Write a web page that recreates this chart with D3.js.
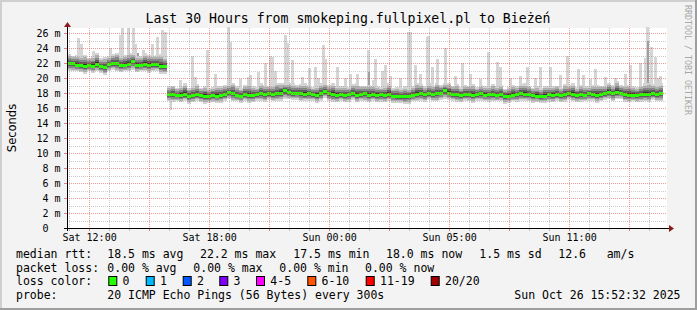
<!DOCTYPE html>
<html>
<head>
<meta charset="utf-8">
<script src="https://cdn.jsdelivr.net/npm/d3@7"></script>
<style>
html, body { margin: 0; padding: 0; background: #f3f3f3; }
svg { display: block; }
text { font-family: "DejaVu Sans Mono", monospace; fill: #000; white-space: pre; }
</style>
</head>
<body>
<svg width="697" height="310"></svg>
<script>
// ---- data ----
const title = "Last 30 Hours from smokeping.fullpixel.pl to Bieżeń";
const tickLabels = ["Sat 12:00", "Sat 18:00", "Sun 00:00", "Sun 05:00", "Sun 11:00"];
const tickHours = [1.08, 7.08, 13.08, 19.08, 25.08];   // hours since graph start
const yTicks = [0, 2, 4, 6, 8, 10, 12, 14, 16, 18, 20, 22, 24, 26];   // ms

const stepHours = 0.2;  // one value per 12 minutes
const median = [
  21.9, 21.9, 21.7, 21.7, 21.6, 21.7, 21.6, 21.8, 21.5, 21.4,
  21.8, 21.9, 21.9, 21.7, 21.7, 21.8, 22.2, 21.7, 21.7, 21.8,
  21.7, 21.8, 21.8, 21.6, 21.5, 17.8, 17.8, 17.7, 17.7, 17.8,
  17.6, 17.7, 17.8, 17.7, 17.6, 17.5, 17.7, 17.6, 17.7, 17.8,
  18.1, 17.9, 17.7, 17.6, 17.8, 17.7, 17.7, 17.8, 17.9, 17.8,
  17.9, 17.8, 17.9, 18.0, 18.3, 18.1, 17.9, 18.0, 17.9, 17.8,
  17.9, 17.8, 17.7, 17.9, 18.2, 17.9, 17.8, 17.7, 17.8, 17.7,
  17.8, 17.9, 17.7, 17.8, 17.9, 17.7, 17.8, 17.7, 17.8, 17.7,
  17.8, 17.6, 17.5, 17.5, 17.5, 17.6, 17.7, 17.8, 17.9, 17.8,
  17.9, 17.8, 17.9, 18.0, 18.3, 18.0, 17.8, 17.8, 17.7, 17.8,
  17.8, 17.7, 17.8, 17.9, 17.7, 17.8, 17.8, 17.7, 17.8, 17.6,
  17.6, 17.7, 17.8, 17.9, 17.8, 17.8, 17.7, 17.6, 17.5, 17.6,
  17.8, 17.7, 17.8, 17.7, 17.8, 17.9, 17.8, 17.7, 17.8, 17.7,
  17.9, 17.8, 17.7, 17.8, 17.9, 18.1, 17.9, 18.1, 18.0, 17.8,
  17.7, 17.7, 17.7, 17.8, 17.8, 17.8, 17.9, 17.8, 17.9
];
// how far the bulk of the pings reaches above / below the median (ms)
const spreadAbove = [
  1.3, 1.1, 1.4, 1.2, 1.5, 1.0, 1.3, 1.6, 1.2, 1.4,
  1.1, 1.3, 1.5, 1.2, 1.4, 1.6, 1.1, 1.3, 1.2, 1.5,
  1.4, 1.2, 1.3, 1.6, 1.4, 1.1, 1.2, 1.0, 1.3, 1.5,
  1.1, 1.2, 1.4, 1.0, 1.3, 1.2, 1.1, 1.4, 1.2, 1.3,
  1.0, 1.5, 1.2, 1.1, 1.3, 1.6, 1.2, 1.0, 1.4, 1.3,
  1.1, 1.2, 1.5, 1.3, 1.0, 1.2, 1.4, 1.1, 1.3, 1.5,
  1.2, 1.0, 1.3, 1.4, 1.1, 1.2, 1.5, 1.3, 1.1, 1.2,
  1.0, 1.3, 1.6, 1.2, 1.1, 1.4, 1.2, 1.3, 1.0, 1.2,
  1.5, 1.1, 1.3, 1.2, 1.4, 1.0, 1.2, 1.6, 1.3, 1.1,
  1.4, 1.2, 1.5, 1.1, 1.0, 1.3, 1.2, 1.4, 1.1, 1.3,
  1.2, 1.5, 1.0, 1.2, 1.3, 1.1, 1.4, 1.2, 1.3, 1.0,
  1.2, 1.4, 1.1, 1.3, 1.5, 1.2, 1.0, 1.3, 1.2, 1.4,
  1.1, 1.3, 1.2, 1.0, 1.4, 1.2, 1.5, 1.1, 1.3, 1.2,
  1.0, 1.3, 1.4, 1.2, 1.1, 1.3, 1.2, 1.5, 1.1, 1.2,
  1.4, 1.3, 1.1, 1.2, 1.5, 1.6, 1.3, 1.2, 1.4
];
const spreadBelow = [
  0.9, 1.0, 0.8, 0.9, 1.0, 0.8, 0.9, 0.9, 0.8, 1.0,
  0.9, 0.8, 1.0, 0.9, 0.8, 0.9, 1.1, 0.9, 0.8, 0.9,
  1.0, 0.9, 0.8, 1.0, 0.9, 0.9, 1.0, 0.8, 0.9, 0.8,
  1.0, 0.9, 0.8, 0.9, 1.0, 0.8, 0.9, 0.9, 1.0, 0.8,
  0.9, 1.0, 0.8, 0.9, 0.8, 1.0, 0.9, 0.8, 0.9, 1.0,
  0.8, 0.9, 0.9, 1.0, 1.1, 0.9, 0.8, 0.9, 1.0, 0.8,
  0.9, 0.8, 1.0, 0.9, 0.8, 0.9, 1.0, 0.9, 0.8, 0.9,
  1.0, 0.8, 0.9, 0.8, 1.0, 0.9, 0.8, 0.9, 1.0, 0.9,
  0.8, 0.9, 0.8, 0.8, 0.9, 1.0, 0.8, 0.9, 0.9, 1.0,
  0.8, 0.9, 1.0, 0.9, 1.1, 0.9, 0.8, 1.0, 0.9, 0.8,
  0.9, 1.0, 0.8, 0.9, 0.8, 1.0, 0.9, 0.8, 0.9, 1.0,
  0.9, 0.8, 1.0, 0.9, 0.8, 0.9, 1.0, 0.8, 0.8, 0.9,
  1.0, 0.9, 0.8, 0.9, 1.0, 0.8, 0.9, 0.9, 1.0, 0.8,
  0.9, 0.8, 1.0, 0.9, 0.8, 0.9, 1.0, 0.9, 0.8, 1.0,
  0.9, 0.8, 0.9, 1.0, 0.9, 1.0, 0.8, 0.9, 1.0
];
// single high pings (light smoke spikes)
const spikeHours = [
  0.55, 0.7, 1.3, 2.15, 2.65, 2.75, 3.05, 3.3, 3.4, 3.8, 4.25, 4.5, 4.75, 4.9,
  5.65, 6.25, 6.4, 7.0, 7.4, 8.05, 8.15, 8.65, 9.05, 9.15, 9.55, 9.9, 10.15, 10.25,
  10.4, 10.9, 11.0, 11.25, 11.75, 12.1, 12.4, 12.55, 12.8, 12.9, 13.5, 13.9, 14.15,
  14.5, 15.05, 15.3, 15.4, 15.75, 15.9, 16.15, 16.65, 17.05, 17.15, 17.4, 17.65,
  18.0, 18.05, 18.25, 18.5, 18.9, 19.4, 19.75, 20.15, 20.65, 21.05, 21.5, 21.65,
  22.15, 22.65, 23.0, 23.4, 23.65, 24.15, 24.65, 25.0, 25.55, 25.8, 26.15, 26.4,
  26.9, 27.4, 27.9, 28.15, 28.65, 28.9, 29.0, 29.2, 29.4, 29.5, 29.65
];
const spikeTops = [
  25.3, 24.6, 23.6, 24.0, 25.7, 26.7, 26.7, 26.7, 24.5, 23.7, 24.5, 25.5, 26.4, 26.2,
  19.7, 23.0, 20.2, 23.7, 20.5, 26.8, 24.8, 19.9, 20.1, 20.4, 20.8, 22.0, 23.0, 22.8,
  21.0, 25.7, 24.7, 22.4, 20.1, 21.3, 21.5, 20.0, 24.4, 22.5, 21.5, 20.0, 20.6,
  20.6, 23.8, 19.7, 22.6, 21.0, 21.7, 20.3, 20.0, 26.1, 26.1, 21.7, 20.6,
  25.5, 25.6, 21.5, 22.5, 24.0, 20.3, 22.0, 20.5, 19.9, 23.5, 22.1, 21.5,
  20.0, 20.3, 21.5, 20.0, 21.5, 21.5, 20.4, 23.0, 21.2, 20.4, 19.9, 21.2,
  20.2, 20.0, 20.5, 21.7, 22.0, 22.7, 26.8, 24.1, 22.8, 20.0, 20.3
];
// a few denser (darker) bursts
const burstHours = [3.5, 15.05, 29.0];
const burstTops = [23.3, 20.8, 25.0];
// single low ping
const dipHours = [5.15];
const dipBottoms = [15.7];

const rttLabel = "median rtt:";
const rttStats = ["18.5 ms avg", "22.2 ms max", "17.5 ms min", "18.0 ms now", "1.5 ms sd", "12.6", "am/s"];
const lossLabel = "packet loss:";
const lossStats = ["0.00 % avg", "0.00 % max", "0.00 % min", "0.00 % now"];
const colorLabel = "loss color:";
const lossLabels = ["0", "1", "2", "3", "4-5", "6-10", "11-19", "20/20"];
const lossColors = ["#26ff00", "#00b8ff", "#0059ff", "#7e00ff", "#ff00ff", "#ff5500", "#ff0000", "#a10000"];
const probeLabel = "probe:";
const probeText = "20 ICMP Echo Pings (56 Bytes) every 300s";
const stampText = "Sun Oct 26 15:52:32 2025";

// ---- layout ----
const svg = d3.select("svg");
const W = 697, H = 310;
const plot = { left: 67, right: 667, top: 28, bottom: 228 };

const x = d3.scaleLinear().domain([0, 30]).range([plot.left, plot.right]);
const y = d3.scaleLinear().domain([0, 200 / 7.5]).range([plot.bottom, plot.top]);

// background and 3d border
svg.append("rect").attr("width", W).attr("height", H).attr("fill", "#f3f3f3");
svg.append("rect").attr("x", 0).attr("y", 0).attr("width", W).attr("height", 2).attr("fill", "#cfcfcf");
svg.append("rect").attr("x", 0).attr("y", 0).attr("width", 2).attr("height", H).attr("fill", "#cfcfcf");
svg.append("rect").attr("x", 0).attr("y", H - 2).attr("width", W).attr("height", 2).attr("fill", "#9e9e9e");
svg.append("rect").attr("x", W - 2).attr("y", 0).attr("width", 2).attr("height", H).attr("fill", "#9e9e9e");

svg.append("rect")
  .attr("x", plot.left).attr("y", plot.top)
  .attr("width", plot.right - plot.left).attr("height", plot.bottom - plot.top)
  .attr("fill", "#fff");

// ---- smoke ----
const g = svg.append("g").attr("shape-rendering", "crispEdges");
const stepW = x(stepHours) - x(0);
const medAt = h => median[Math.min(median.length - 1, Math.floor(h / stepHours))];

g.selectAll(".spike").data(d3.range(spikeHours.length)).enter().append("rect")
  .attr("x", i => Math.round(x(spikeHours[i])) - 1)
  .attr("width", 3)
  .attr("y", i => y(spikeTops[i]))
  .attr("height", i => Math.max(0, y(medAt(spikeHours[i])) - y(spikeTops[i])))
  .attr("fill", "#d5d5d5");

g.selectAll(".burst").data(d3.range(burstHours.length)).enter().append("rect")
  .attr("x", i => Math.round(x(burstHours[i])))
  .attr("width", 2)
  .attr("y", i => y(burstTops[i]))
  .attr("height", i => y(medAt(burstHours[i])) - y(burstTops[i]))
  .attr("fill", "#a0a0a0");

g.selectAll(".dip").data(d3.range(dipHours.length)).enter().append("rect")
  .attr("x", i => Math.round(x(dipHours[i])))
  .attr("width", 2)
  .attr("y", i => y(medAt(dipHours[i])))
  .attr("height", i => y(dipBottoms[i]) - y(medAt(dipHours[i])))
  .attr("fill", "#d0d0d0");

// shaded bands around the median, lightest outside
const shades = [
  { f: 1.0, c: "#d4d4d4" },
  { f: 0.78, c: "#b0b0b0" },
  { f: 0.56, c: "#878787" },
  { f: 0.36, c: "#5e5e5e" },
  { f: 0.18, c: "#333333" }
];
shades.forEach(s => {
  g.append("g").selectAll("rect").data(median).enter().append("rect")
    .attr("x", (d, i) => x(i * stepHours))
    .attr("width", stepW)
    .attr("y", (d, i) => y(d + s.f * spreadAbove[i]))
    .attr("height", (d, i) => y(d - s.f * spreadBelow[i]) - y(d + s.f * spreadAbove[i]))
    .attr("fill", s.c);
});

// median, coloured by loss (all 0 here)
g.append("g").selectAll("rect").data(median).enter().append("rect")
  .attr("x", (d, i) => x(i * stepHours))
  .attr("width", stepW)
  .attr("y", d => y(d) - 1.5)
  .attr("height", 3)
  .attr("fill", lossColors[0]);

// ---- grid ----
const grid = svg.append("g").attr("stroke-width", 1).attr("stroke-dasharray", "1,1");
const minorY = d3.range(1, 27);
grid.selectAll(".hy").data(minorY).enter().append("line")
  .attr("x1", plot.left).attr("x2", plot.right)
  .attr("y1", d => Math.round(y(d)) + 0.5).attr("y2", d => Math.round(y(d)) + 0.5)
  .attr("stroke", d => d % 2 === 0 ? "rgba(228,70,70,0.55)" : "rgba(150,150,150,0.5)");

const firstMajor = tickHours[0];
const vHours = d3.range(firstMajor - 1, 30, 1);
grid.selectAll(".vx").data(vHours).enter().append("line")
  .attr("x1", d => Math.round(x(d)) + 0.5).attr("x2", d => Math.round(x(d)) + 0.5)
  .attr("y1", plot.top).attr("y2", plot.bottom)
  .attr("stroke", (d, i) => (i - 1) % 3 === 0 ? "rgba(228,70,70,0.55)" : "rgba(150,150,150,0.5)");

// small tick marks on the axes
svg.append("g").selectAll("line").data(vHours).enter().append("line")
  .attr("x1", d => Math.round(x(d)) + 0.5).attr("x2", d => Math.round(x(d)) + 0.5)
  .attr("y1", plot.bottom).attr("y2", plot.bottom + 3)
  .attr("stroke", (d, i) => (i - 1) % 3 === 0 ? "#e88080" : "#c0c0c0");
svg.append("g").selectAll("line").data(yTicks.slice(1)).enter().append("line")
  .attr("x1", plot.left - 3).attr("x2", plot.left)
  .attr("y1", d => Math.round(y(d)) + 0.5).attr("y2", d => Math.round(y(d)) + 0.5)
  .attr("stroke", "#e88080");

// ---- axes ----
svg.append("line")
  .attr("x1", plot.left - 3).attr("x2", plot.right + 3)
  .attr("y1", plot.bottom + 0.5).attr("y2", plot.bottom + 0.5)
  .attr("stroke", "#000");
svg.append("line")
  .attr("x1", plot.left + 0.5).attr("x2", plot.left + 0.5)
  .attr("y1", plot.bottom + 3).attr("y2", plot.top - 3)
  .attr("stroke", "#000");
svg.append("path")
  .attr("d", `M${plot.right + 2},${plot.bottom - 3}L${plot.right + 7},${plot.bottom + 0.5}L${plot.right + 2},${plot.bottom + 4}Z`)
  .attr("fill", "#8e1b1b");
svg.append("path")
  .attr("d", `M${plot.left - 3},${plot.top - 1}L${plot.left + 0.5},${plot.top - 6}L${plot.left + 4},${plot.top - 1}Z`)
  .attr("fill", "#8e1b1b");

// tick labels
svg.append("g").selectAll("text").data(tickLabels).enter().append("text")
  .attr("x", (d, i) => x(tickHours[i]) + 1)
  .attr("y", 241)
  .attr("text-anchor", "middle")
  .style("font-size", "10px")
  .text(d => d);

svg.append("g").selectAll("text").data(yTicks).enter().append("text")
  .attr("x", 60.5)
  .attr("y", d => y(d) + 3.5)
  .attr("text-anchor", "end")
  .style("font-size", "10px")
  .text(d => d === 0 ? "0  " : d + " m");

// titles
svg.append("text")
  .attr("x", 348).attr("y", 23)
  .attr("text-anchor", "middle")
  .style("font-size", "13.2px")
  .text(title);

svg.append("text")
  .attr("transform", "translate(15.5,128) rotate(-90)")
  .attr("text-anchor", "middle")
  .style("font-family", "'DejaVu Sans', sans-serif")
  .style("font-size", "11.5px")
  .text("Seconds");

svg.append("text")
  .attr("transform", "translate(684.5,5) rotate(90)")
  .style("font-size", "8.3px")
  .style("fill", "#a8a8a8")
  .text("RRDTOOL / TOBI OETIKER");

// ---- legend ----
const leg = svg.append("g").style("font-size", "11.5px");
const rows = [258.3, 271.8, 285.3, 298.8];
const col0 = 16;

leg.append("text").attr("x", col0).attr("y", rows[0]).text(rttLabel);
const rttX = [107.3, 200, 293.3, 386, 479.3, 558.3, 606.7];
leg.selectAll(".rtt").data(rttStats).enter().append("text")
  .attr("x", (d, i) => rttX[i]).attr("y", rows[0]).text(d => d);

leg.append("text").attr("x", col0).attr("y", rows[1]).text(lossLabel);
const lossX = [107.3, 193.3, 279.3, 365];
leg.selectAll(".loss").data(lossStats).enter().append("text")
  .attr("x", (d, i) => lossX[i]).attr("y", rows[1]).text(d => d);

leg.append("text").attr("x", col0).attr("y", rows[2]).text(colorLabel);
const boxX = [108.3, 145.7, 182.7, 219.3, 256, 307.3, 365.7, 430.7];
leg.selectAll(".box").data(lossColors).enter().append("rect")
  .attr("x", (d, i) => boxX[i] + 0.5).attr("y", 276.5)
  .attr("width", 8).attr("height", 9)
  .attr("fill", d => d).attr("stroke", "#000").attr("stroke-width", 1);
leg.selectAll(".lbl").data(lossLabels).enter().append("text")
  .attr("x", (d, i) => boxX[i] + 14.3).attr("y", rows[2]).text(d => d);

leg.append("text").attr("x", col0).attr("y", rows[3]).text(probeLabel);
leg.append("text").attr("x", 107.3).attr("y", rows[3]).text(probeText);
leg.append("text").attr("x", 680.5).attr("y", rows[3]).attr("text-anchor", "end").text(stampText);
</script>
</body>
</html>
